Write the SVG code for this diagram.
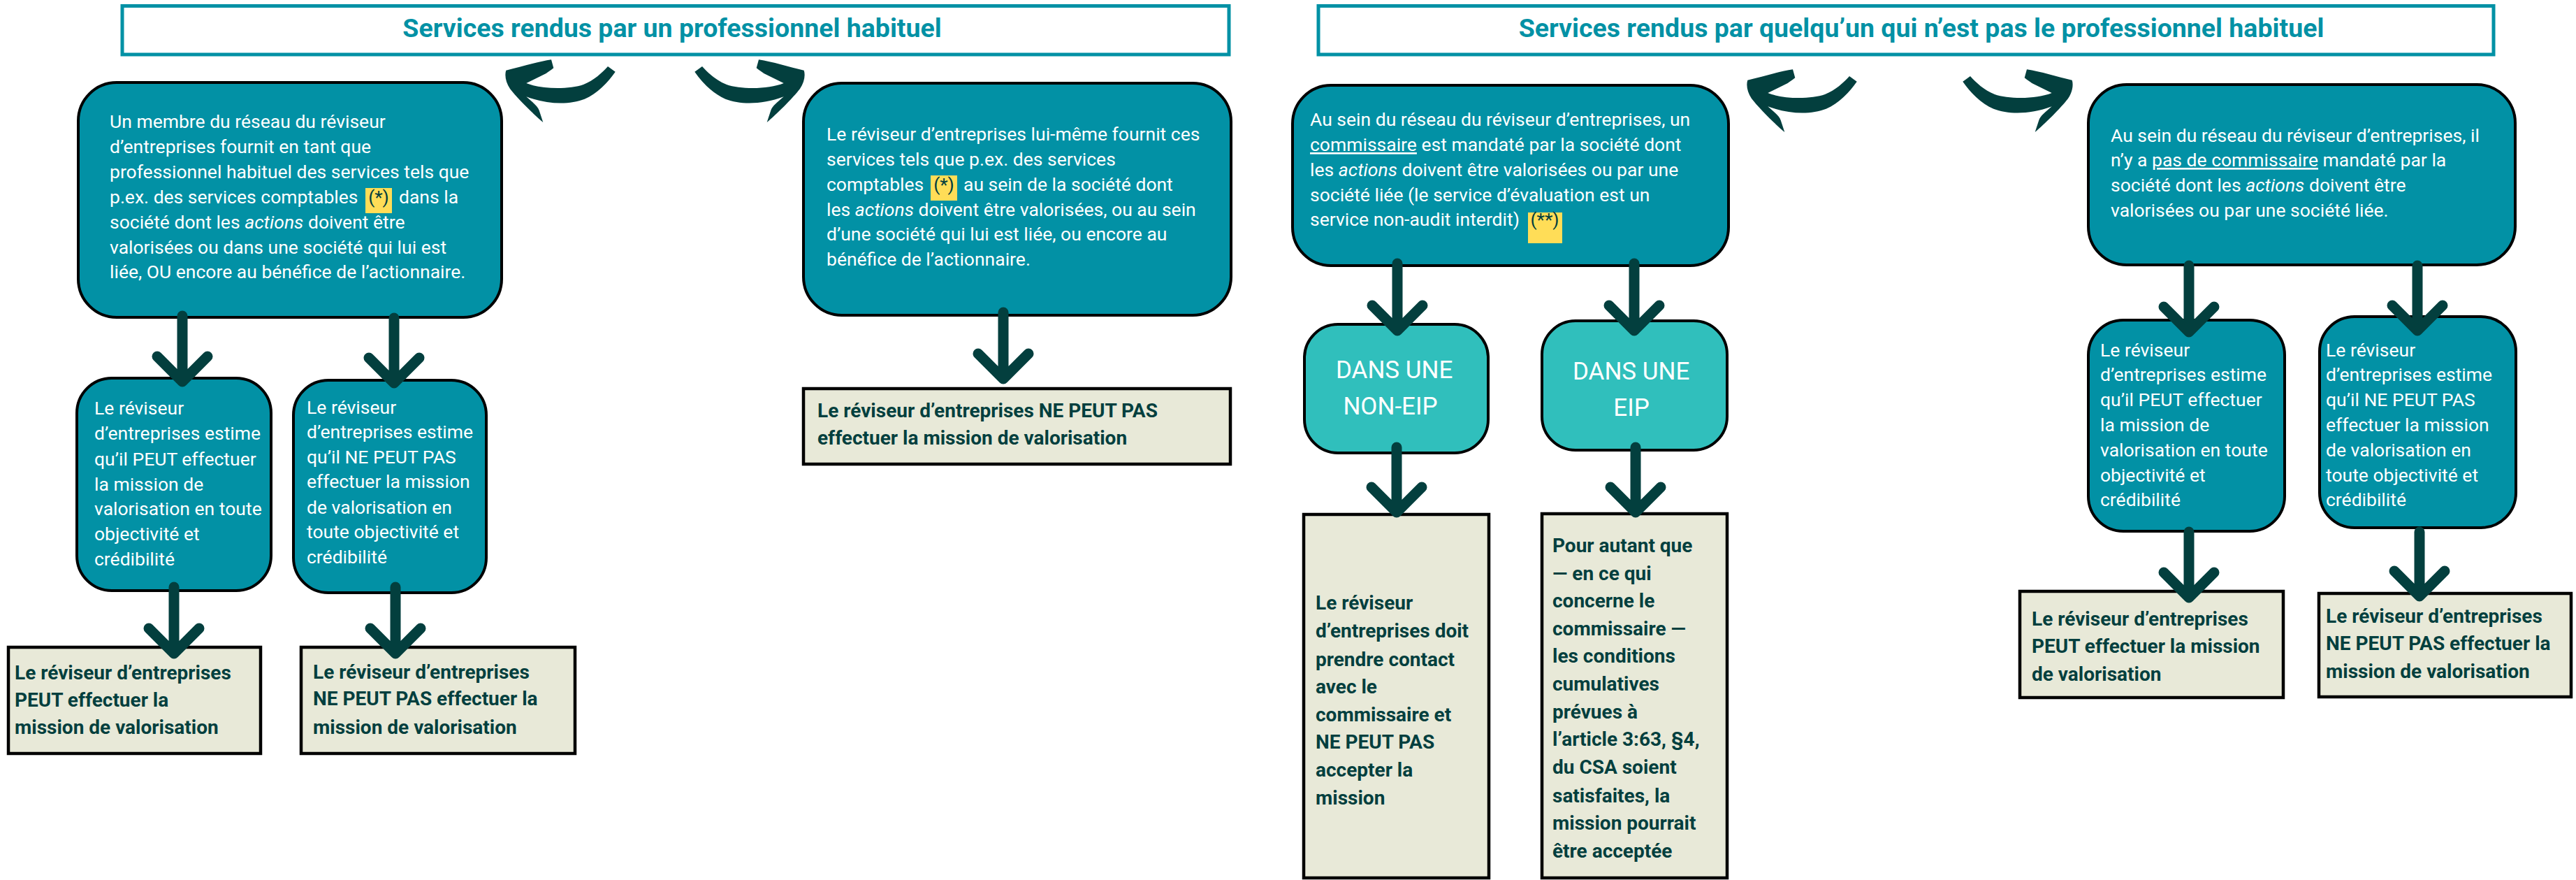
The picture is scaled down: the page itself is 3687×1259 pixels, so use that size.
<svg xmlns="http://www.w3.org/2000/svg" width="3687" height="1259" viewBox="0 0 3687 1259">
<style>
text{font-family:Roboto,'Liberation Sans',sans-serif}
.t{font-size:26.5px;fill:#fff}
.b{font-size:28px;font-weight:700;fill:#033f3e}
.ttl{font-size:37.5px;font-weight:700;fill:#0291a5;text-anchor:middle}
.tb{fill:#fff;stroke:#0291a5;stroke-width:5}
.box{fill:#0291a5;stroke:#000;stroke-width:4}
.box2{fill:#30bfbc;stroke:#000;stroke-width:4}
.res{fill:#e8e9d8;stroke:#000;stroke-width:4.5}
.hl{fill:#ffdd57}
.hlt{fill:#033f3e}
.big{font-size:35px;fill:#fff;text-anchor:middle}
.arr{fill:none;stroke:#033f3e;stroke-width:15;stroke-linecap:round;stroke-linejoin:round}
.crv{fill:#033f3e}
</style>
<defs>
<path id="curve" d="M724.3 100.7C745 96 770 88 789 85.3L792.3 97.3C788 101 784 103 781.7 105L753.3 119C775 128 815 128 835 121C850 115 862 104 870 95L880.7 102.7C870 118 855 134 836.7 141.7C815 150 785 150 753.3 138.3C762 146 770 152 771.7 158L777.3 175C765 165 740 140 730 127C724 118 722 108 724.3 100.7Z"/>
</defs>
<rect width="3687" height="1259" fill="#fff"/>

<g id="title1">
<rect class="tb" x="175" y="8.5" width="1584" height="69.5"/>
<text class="ttl" x="962" y="53">Services rendus par un professionnel habituel</text>
</g>
<g id="title2">
<rect class="tb" x="1887" y="8.5" width="1682" height="69.5"/>
<text class="ttl" x="2750" y="53">Services rendus par quelqu’un qui n’est pas le professionnel habituel</text>
</g>

<g id="nodeA">
<rect class="box" x="112" y="118" width="606" height="336" rx="55"/>
<rect class="hl" x="523" y="269" width="38" height="36"/>
<text class="t">
<tspan x="157" y="183">Un membre du réseau du réviseur</tspan>
<tspan x="157" y="219">d’entreprises fournit en tant que</tspan>
<tspan x="157" y="255">professionnel habituel des services tels que</tspan>
<tspan x="157" y="291">p.ex. des services comptables</tspan>
<tspan x="571" y="291">dans la</tspan>
<tspan x="157" y="327">société dont les <tspan font-style="italic">actions</tspan> doivent être</tspan>
<tspan x="157" y="363">valorisées ou dans une société qui lui est</tspan>
<tspan x="157" y="398">liée, OU encore au bénéfice de l’actionnaire.</tspan>
</text>
<text class="t hlt" x="542" y="291" text-anchor="middle">(*)</text>
</g>

<g id="nodeB">
<rect class="box" x="1150" y="119" width="612" height="332" rx="55"/>
<rect class="hl" x="1332" y="251" width="38" height="36"/>
<text class="t">
<tspan x="1183" y="201">Le réviseur d’entreprises lui-même fournit ces</tspan>
<tspan x="1183" y="237">services tels que p.ex. des services</tspan>
<tspan x="1183" y="273">comptables</tspan>
<tspan x="1379" y="273">au sein de la société dont</tspan>
<tspan x="1183" y="309">les <tspan font-style="italic">actions</tspan> doivent être valorisées, ou au sein</tspan>
<tspan x="1183" y="344">d’une société qui lui est liée, ou encore au</tspan>
<tspan x="1183" y="380">bénéfice de l’actionnaire.</tspan>
</text>
<text class="t hlt" x="1351" y="273" text-anchor="middle">(*)</text>
</g>

<g id="nodeC1">
<rect class="box" x="110" y="541" width="278" height="304" rx="50"/>
<text class="t">
<tspan x="135" y="593">Le réviseur</tspan>
<tspan x="135" y="629">d’entreprises estime</tspan>
<tspan x="135" y="666">qu’il PEUT effectuer</tspan>
<tspan x="135" y="702">la mission de</tspan>
<tspan x="135" y="737">valorisation en toute</tspan>
<tspan x="135" y="773">objectivité et</tspan>
<tspan x="135" y="809">crédibilité</tspan>
</text>
</g>

<g id="nodeC2">
<rect class="box" x="420" y="544" width="276" height="304" rx="50"/>
<text class="t">
<tspan x="439" y="592">Le réviseur</tspan>
<tspan x="439" y="627">d’entreprises estime</tspan>
<tspan x="439" y="663">qu’il NE PEUT PAS</tspan>
<tspan x="439" y="698">effectuer la mission</tspan>
<tspan x="439" y="735">de valorisation en</tspan>
<tspan x="439" y="770">toute objectivité et</tspan>
<tspan x="439" y="806">crédibilité</tspan>
</text>
</g>

<g id="nodeD1">
<rect class="res" x="12" y="926" width="361" height="152"/>
<text class="b">
<tspan x="21" y="972">Le réviseur d’entreprises</tspan>
<tspan x="21" y="1011">PEUT effectuer la</tspan>
<tspan x="21" y="1050">mission de valorisation</tspan>
</text>
</g>

<g id="nodeD2">
<rect class="res" x="431" y="926" width="392" height="152"/>
<text class="b">
<tspan x="448" y="971">Le réviseur d’entreprises</tspan>
<tspan x="448" y="1009">NE PEUT PAS effectuer la</tspan>
<tspan x="448" y="1050">mission de valorisation</tspan>
</text>
</g>

<g id="nodeBres">
<rect class="res" x="1150" y="556" width="611" height="108"/>
<text class="b">
<tspan x="1170" y="597">Le réviseur d’entreprises NE PEUT PAS</tspan>
<tspan x="1170" y="636">effectuer la mission de valorisation</tspan>
</text>
</g>

<g id="nodeE">
<rect class="box" x="1850" y="122" width="624" height="258" rx="55"/>
<rect class="hl" x="2187" y="304" width="49" height="44"/>
<text class="t">
<tspan x="1875" y="180">Au sein du réseau du réviseur d’entreprises, un</tspan>
<tspan x="1875" y="216"><tspan text-decoration="underline">commissaire</tspan> est mandaté par la société dont</tspan>
<tspan x="1875" y="252">les <tspan font-style="italic">actions</tspan> doivent être valorisées ou par une</tspan>
<tspan x="1875" y="288">société liée (le service d’évaluation est un</tspan>
<tspan x="1875" y="323">service non-audit interdit)</tspan>
</text>
<text class="t hlt" x="2211" y="323" text-anchor="middle">(**)</text>
</g>

<g id="nodeNonEIP">
<rect class="box2" x="1867" y="464" width="263" height="184" rx="48"/>
<text class="big">
<tspan x="2000" y="541">DANS UNE</tspan>
<tspan x="1990" y="593">NON-EIP</tspan>
</text>
</g>

<g id="nodeEIP">
<rect class="box2" x="2207" y="459" width="265" height="185" rx="48"/>
<text class="big">
<tspan x="2339" y="543">DANS UNE</tspan>
<tspan x="2335" y="595">EIP</tspan>
</text>
</g>

<g id="nodeNonEIPres">
<rect class="res" x="1866" y="736" width="265" height="520"/>
<text class="b">
<tspan x="1883" y="872">Le réviseur</tspan>
<tspan x="1883" y="912">d’entreprises doit</tspan>
<tspan x="1883" y="953">prendre contact</tspan>
<tspan x="1883" y="992">avec le</tspan>
<tspan x="1883" y="1032">commissaire et</tspan>
<tspan x="1883" y="1071">NE PEUT PAS</tspan>
<tspan x="1883" y="1111">accepter la</tspan>
<tspan x="1883" y="1151">mission</tspan>
</text>
</g>

<g id="nodeEIPres">
<rect class="res" x="2207" y="735" width="265" height="521"/>
<text class="b">
<tspan x="2222" y="790">Pour autant que</tspan>
<tspan x="2222" y="830">— en ce qui</tspan>
<tspan x="2222" y="869">concerne le</tspan>
<tspan x="2222" y="909">commissaire —</tspan>
<tspan x="2222" y="948">les conditions</tspan>
<tspan x="2222" y="988">cumulatives</tspan>
<tspan x="2222" y="1028">prévues à</tspan>
<tspan x="2222" y="1067">l’article 3:63, §4,</tspan>
<tspan x="2222" y="1107">du CSA soient</tspan>
<tspan x="2222" y="1148">satisfaites, la</tspan>
<tspan x="2222" y="1187">mission pourrait</tspan>
<tspan x="2222" y="1227">être acceptée</tspan>
</text>
</g>

<g id="nodeF">
<rect class="box" x="2989" y="121" width="611" height="258" rx="55"/>
<text class="t">
<tspan x="3021" y="203">Au sein du réseau du réviseur d’entreprises, il</tspan>
<tspan x="3021" y="238">n’y a <tspan text-decoration="underline">pas de commissaire</tspan> mandaté par la</tspan>
<tspan x="3021" y="274">société dont les <tspan font-style="italic">actions</tspan> doivent être</tspan>
<tspan x="3021" y="310">valorisées ou par une société liée.</tspan>
</text>
</g>

<g id="nodeG1">
<rect class="box" x="2989" y="458" width="281" height="302" rx="50"/>
<text class="t">
<tspan x="3006" y="510">Le réviseur</tspan>
<tspan x="3006" y="545">d’entreprises estime</tspan>
<tspan x="3006" y="581">qu’il PEUT effectuer</tspan>
<tspan x="3006" y="617">la mission de</tspan>
<tspan x="3006" y="653">valorisation en toute</tspan>
<tspan x="3006" y="689">objectivité et</tspan>
<tspan x="3006" y="724">crédibilité</tspan>
</text>
</g>

<g id="nodeG2">
<rect class="box" x="3320" y="453" width="281" height="302" rx="50"/>
<text class="t">
<tspan x="3329" y="510">Le réviseur</tspan>
<tspan x="3329" y="545">d’entreprises estime</tspan>
<tspan x="3329" y="581">qu’il NE PEUT PAS</tspan>
<tspan x="3329" y="617">effectuer la mission</tspan>
<tspan x="3329" y="653">de valorisation en</tspan>
<tspan x="3329" y="689">toute objectivité et</tspan>
<tspan x="3329" y="724">crédibilité</tspan>
</text>
</g>

<g id="nodeH1">
<rect class="res" x="2891" y="846" width="377" height="152"/>
<text class="b">
<tspan x="2908" y="895">Le réviseur d’entreprises</tspan>
<tspan x="2908" y="934">PEUT effectuer la mission</tspan>
<tspan x="2908" y="974">de valorisation</tspan>
</text>
</g>

<g id="nodeH2">
<rect class="res" x="3319" y="849" width="361" height="148"/>
<text class="b">
<tspan x="3329" y="891">Le réviseur d’entreprises</tspan>
<tspan x="3329" y="930">NE PEUT PAS effectuer la</tspan>
<tspan x="3329" y="970">mission de valorisation</tspan>
</text>
</g>

<g id="connectors">
<use href="#curve" class="crv"/>
<use href="#curve" class="crv" transform="translate(1875 0) scale(-1 1)"/>
<use href="#curve" class="crv" transform="translate(1777 14)"/>
<use href="#curve" class="crv" transform="translate(3690 14) scale(-1 1)"/>
<path class="arr" d="M261 452V546M225 510L261 546L297 510"/>
<path class="arr" d="M564 455V548M528 512L564 548L600 512"/>
<path class="arr" d="M249 840V935M213 899L249 935L285 899"/>
<path class="arr" d="M566 840V935M530 899L566 935L602 899"/>
<path class="arr" d="M1436 447V542M1400 506L1436 542L1472 506"/>
<path class="arr" d="M2000 377V473M1964 437L2000 473L2036 437"/>
<path class="arr" d="M2339 377V473M2303 437L2339 473L2375 437"/>
<path class="arr" d="M1999 640V733M1963 697L1999 733L2035 697"/>
<path class="arr" d="M2341 640V733M2305 697L2341 733L2377 697"/>
<path class="arr" d="M3133 380V475M3097 439L3133 475L3169 439"/>
<path class="arr" d="M3460 380V473M3424 437L3460 473L3496 437"/>
<path class="arr" d="M3133 761V855M3097 819L3133 855L3169 819"/>
<path class="arr" d="M3463 761V853M3427 817L3463 853L3499 817"/>
</g>
</svg>
